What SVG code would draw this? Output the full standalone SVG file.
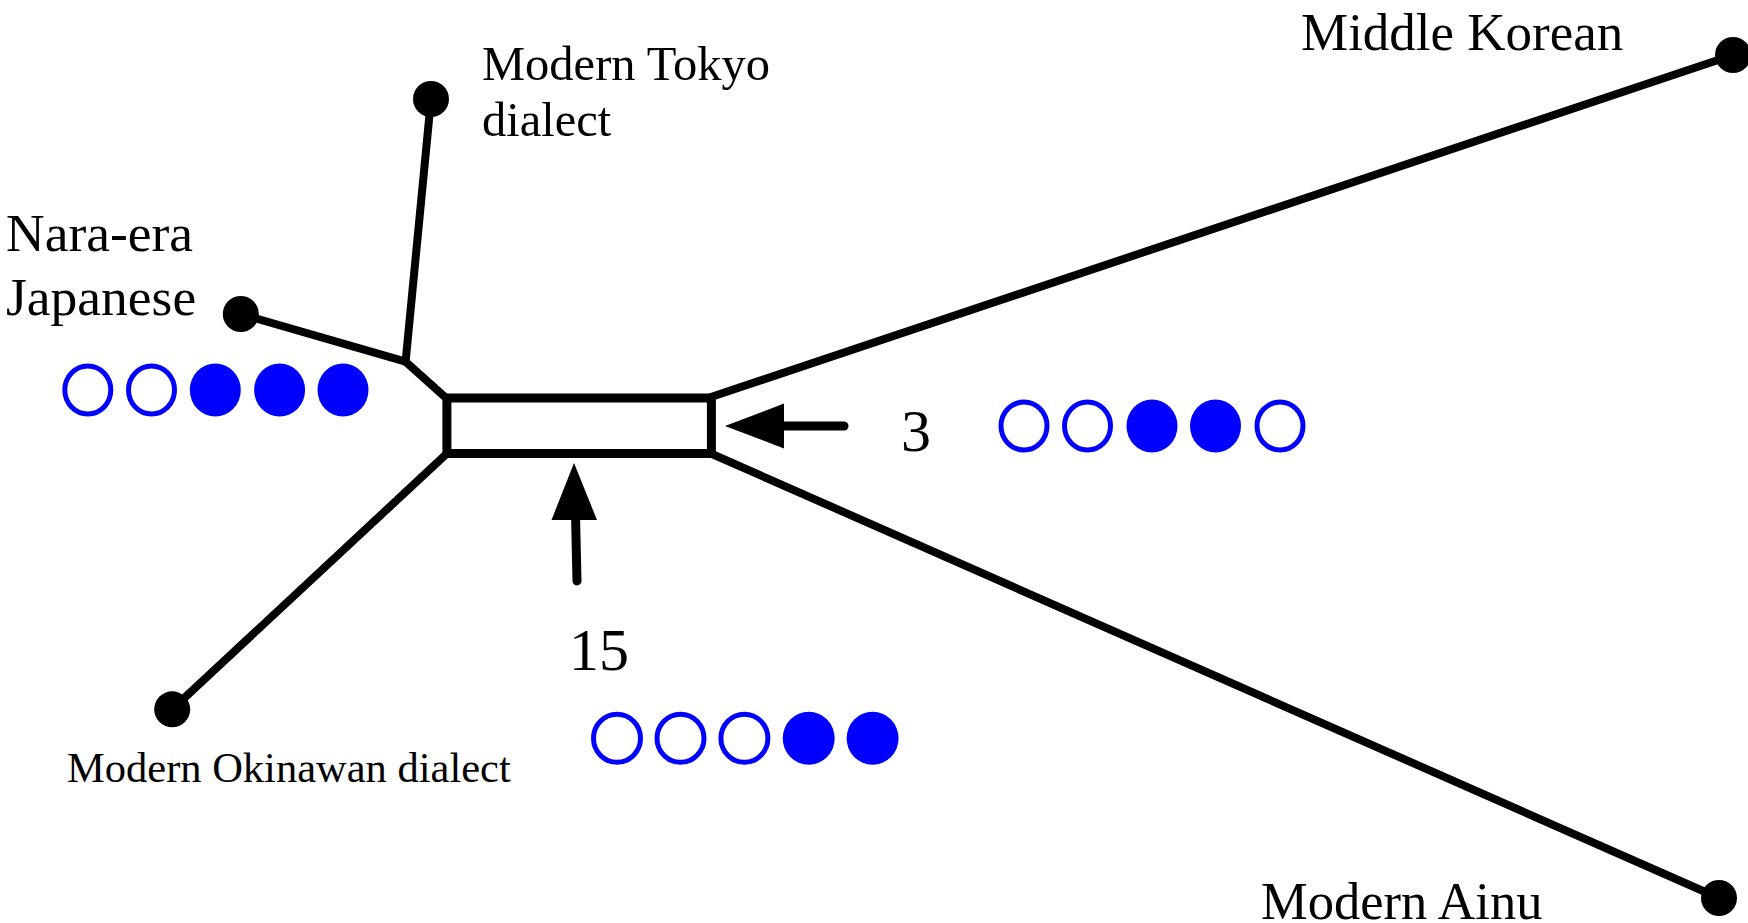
<svg xmlns="http://www.w3.org/2000/svg" width="1748" height="923" viewBox="0 0 1748 923">
<style>
.t{font-family:"Liberation Serif","Times New Roman",serif;fill:#000}
.br{stroke:#000;stroke-width:8;fill:none;stroke-linecap:round;stroke-linejoin:round}
.dot{fill:#000}
.o{fill:none;stroke:#0000ff;stroke-width:5}
.f{fill:#0000ff}
</style>
<rect width="1748" height="923" fill="#fff"/>
<g id="connectors">
<polyline class="br" points="431,99 405.6,361.7 446.4,398.3"/>
<line class="br" x1="240.8" y1="314" x2="405.6" y2="361.7"/>
<line class="br" x1="446.4" y1="454" x2="172.2" y2="709.3"/>
<line class="br" x1="711" y1="397" x2="1733" y2="55"/>
<line class="br" x1="712" y1="454" x2="1719" y2="898"/>
<rect x="446.9" y="398" width="264.5" height="55.5" fill="#fff" stroke="#000" stroke-width="9"/>
<line x1="844" y1="426" x2="780" y2="426" stroke="#000" stroke-width="9" stroke-linecap="round"/>
<polygon points="725,426 784,403.5 784,448.5" fill="#000"/>
<line x1="577" y1="581" x2="575.5" y2="515" stroke="#000" stroke-width="9" stroke-linecap="round"/>
<polygon points="574,463 551.5,520 597,520" fill="#000"/>
</g>
<g id="node-tokyo">
<circle class="dot" cx="431" cy="99" r="18"/>
<text class="t" x="482" y="80" font-size="48.5">Modern Tokyo</text>
<text class="t" x="482" y="136" font-size="48.5">dialect</text>
</g>
<g id="node-nara">
<circle class="dot" cx="240.8" cy="314" r="18"/>
<text class="t" x="6" y="251" font-size="53.5">Nara-era</text>
<text class="t" x="6" y="315" font-size="53.5">Japanese</text>
</g>
<g id="node-okinawan">
<circle class="dot" cx="172.2" cy="709.3" r="18"/>
<text class="t" x="67" y="782" font-size="42.5">Modern Okinawan dialect</text>
</g>
<g id="node-korean">
<circle class="dot" cx="1733" cy="55" r="18"/>
<text class="t" x="1301" y="50" font-size="53">Middle Korean</text>
</g>
<g id="node-ainu">
<circle class="dot" cx="1719" cy="898" r="18"/>
<text class="t" x="1261" y="919" font-size="52.5">Modern Ainu</text>
</g>
<g id="label-3">
<text class="t" x="901" y="451" font-size="60">3</text>
</g>
<g id="label-15">
<text class="t" x="569" y="670" font-size="60">15</text>
</g>
<g id="pattern-left">
<ellipse class="o" cx="87.8" cy="390" rx="23" ry="24"/>
<ellipse class="o" cx="151.5" cy="390" rx="23" ry="24"/>
<ellipse class="f" cx="215.3" cy="390" rx="25.5" ry="26.5"/>
<ellipse class="f" cx="279.6" cy="390" rx="25.5" ry="26.5"/>
<ellipse class="f" cx="343" cy="390" rx="25.5" ry="26.5"/>
</g>
<g id="pattern-right">
<ellipse class="o" cx="1024" cy="426" rx="23" ry="24"/>
<ellipse class="o" cx="1087.5" cy="426" rx="23" ry="24"/>
<ellipse class="f" cx="1152" cy="426" rx="25.5" ry="26.5"/>
<ellipse class="f" cx="1215.5" cy="426" rx="25.5" ry="26.5"/>
<ellipse class="o" cx="1280" cy="426" rx="23" ry="24"/>
</g>
<g id="pattern-bottom">
<ellipse class="o" cx="617" cy="738.3" rx="23.5" ry="24"/>
<ellipse class="o" cx="680.5" cy="738.3" rx="23.5" ry="24"/>
<ellipse class="o" cx="744.4" cy="738.3" rx="23.5" ry="24"/>
<ellipse class="f" cx="808.7" cy="738.3" rx="26" ry="26.5"/>
<ellipse class="f" cx="872.6" cy="738.3" rx="26" ry="26.5"/>
</g>
</svg>
